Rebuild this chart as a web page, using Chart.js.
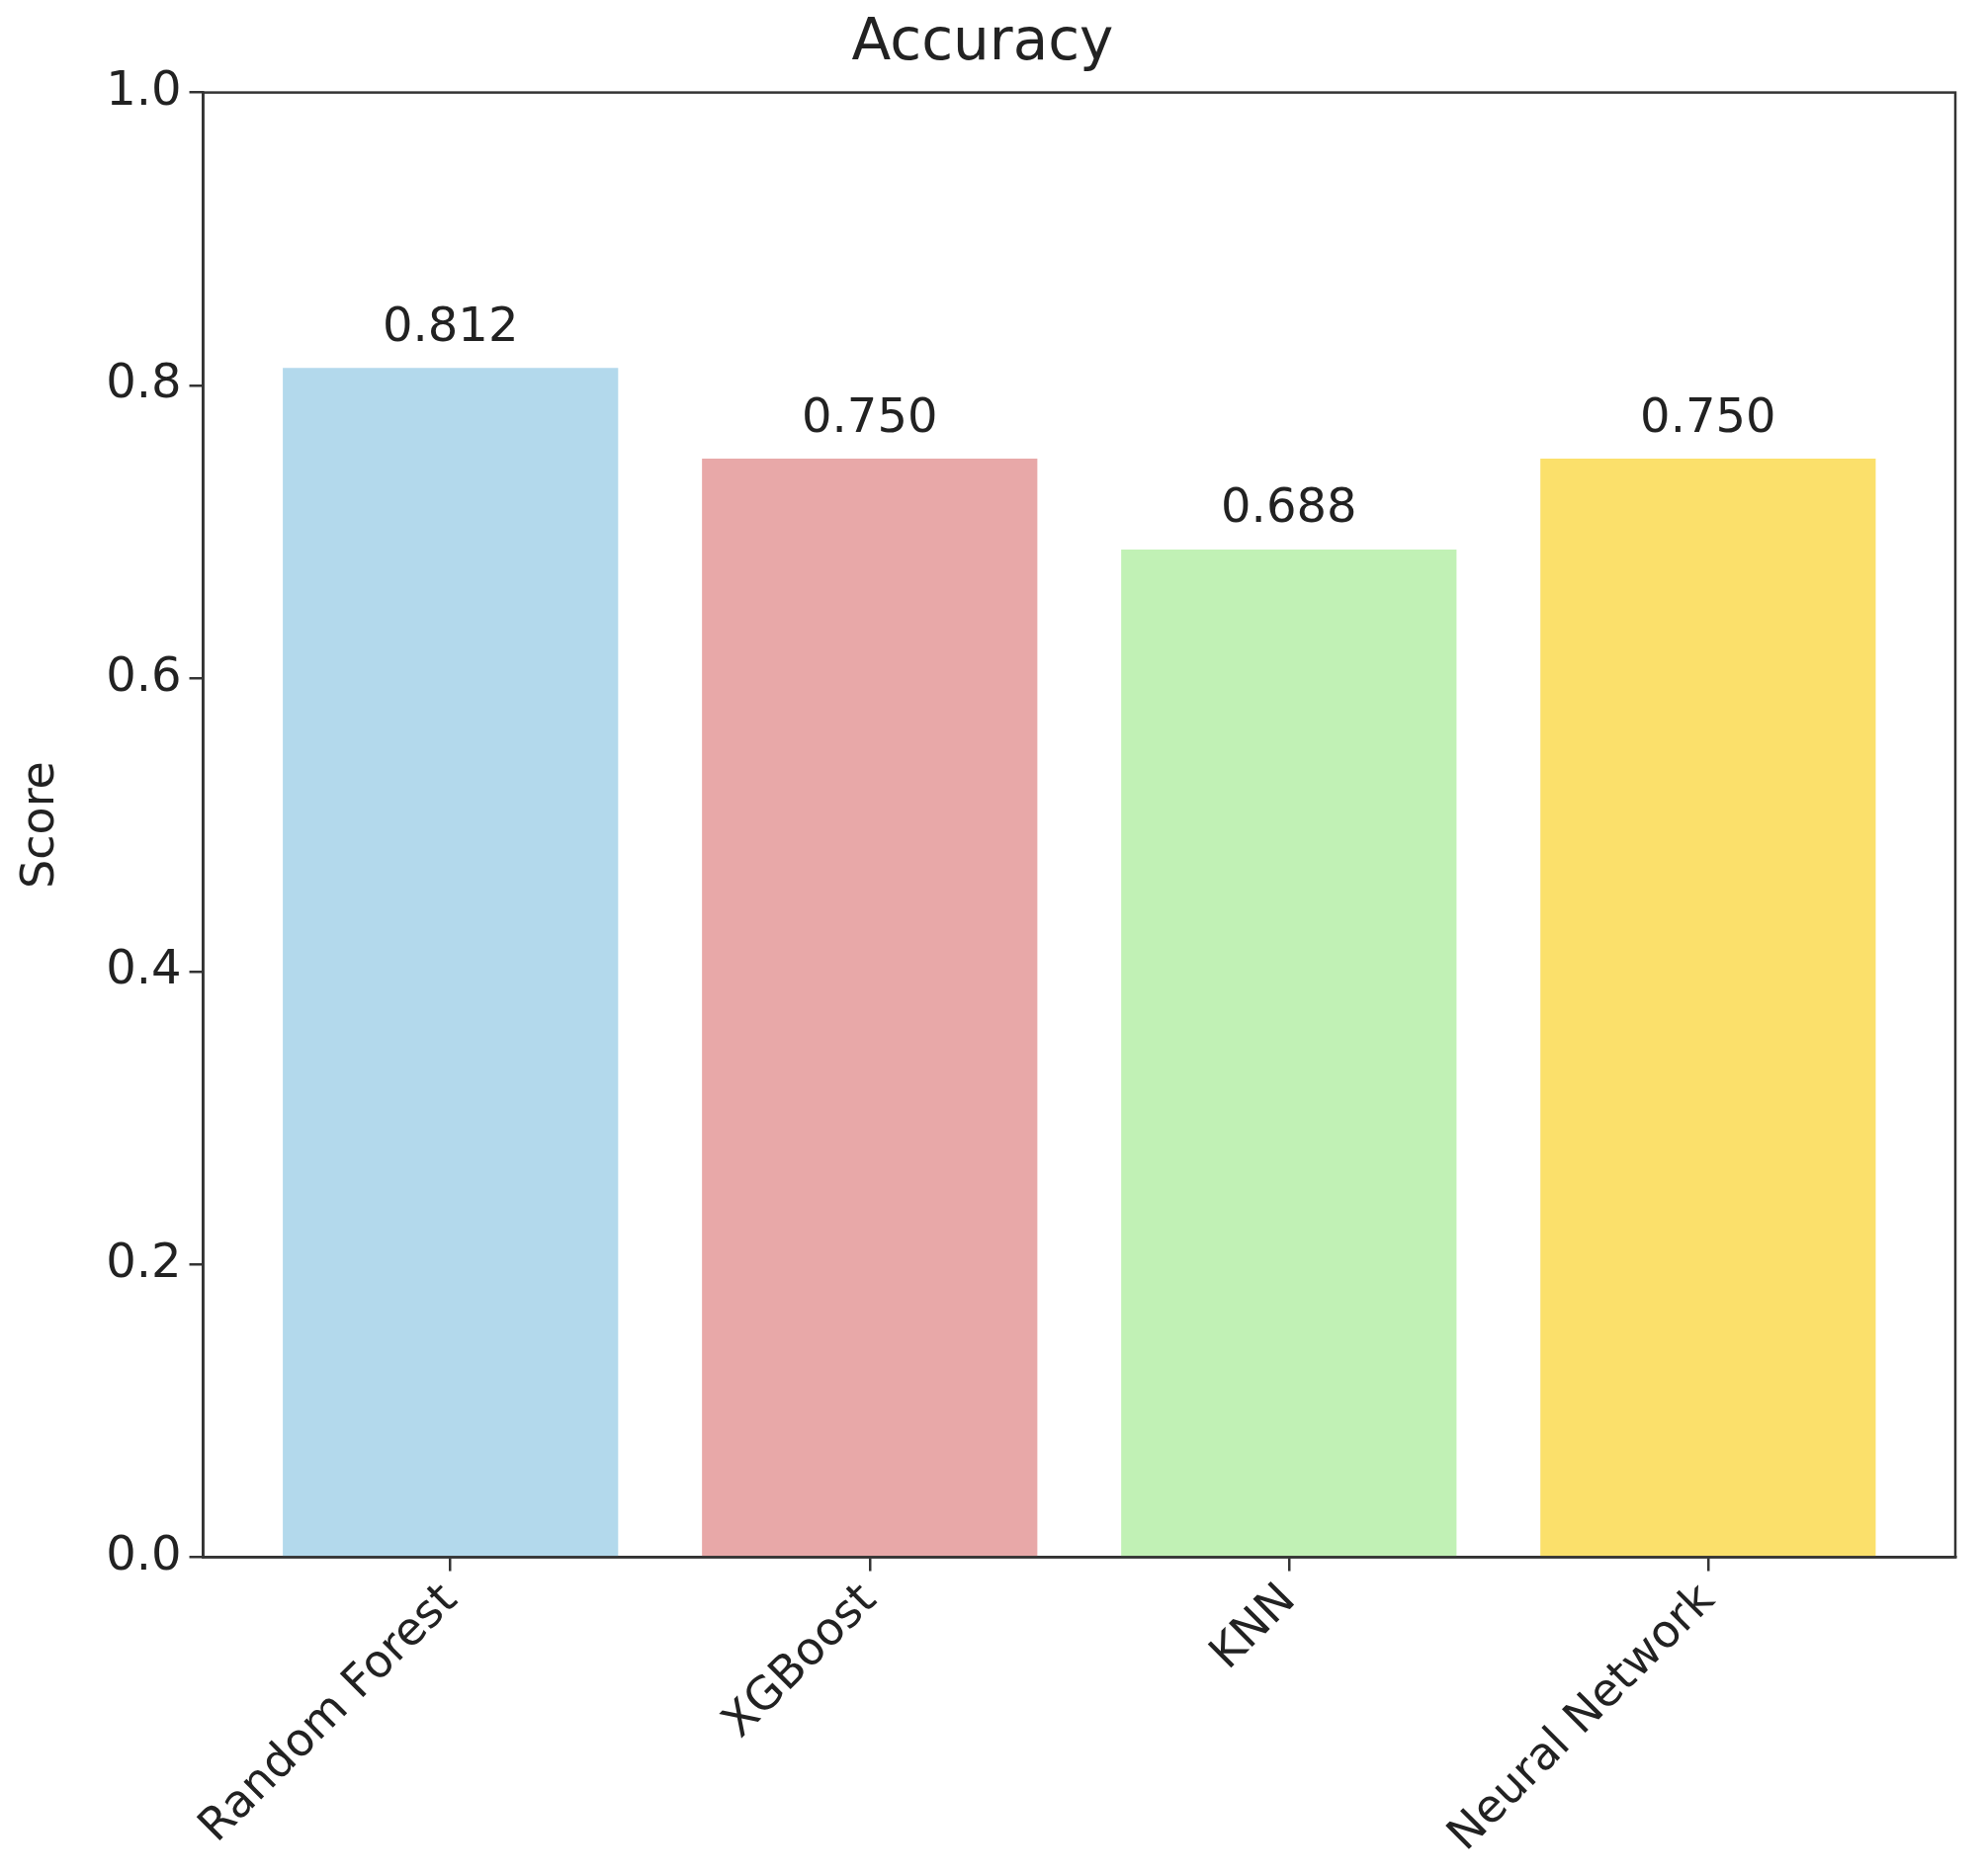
<!DOCTYPE html>
<html><head><meta charset="utf-8">
<script src="https://cdn.jsdelivr.net/npm/chart.js@4/dist/chart.umd.min.js"></script>
<style>html,body{margin:0;background:#fff}#w{width:2007px;height:1898px}</style>
</head><body><div id="w"><canvas id="c"></canvas></div>
<script>
const categories = ["Random Forest", "XGBoost", "KNN", "Neural Network"];
const scores = [0.812, 0.750, 0.688, 0.750];
const barColors = ["#b3d9ec", "#e8a8a8", "#c1f1b5", "#fbe06b"];
const yTicks = [0.0, 0.2, 0.4, 0.6, 0.8, 1.0];
const F = "DejaVu Sans";
const frame = {
  id: 'frame',
  afterDraw(ch) {
    const a = ch.chartArea, x = ch.ctx;
    x.save(); x.strokeStyle = '#333'; x.lineWidth = 2.5;
    x.strokeRect(a.left, a.top, a.right - a.left, a.bottom - a.top);
    x.fillStyle = '#222'; x.font = '48px ' + F; x.textAlign = 'center'; x.textBaseline = 'bottom';
    const xs = ch.scales.x, ys = ch.scales.y;
    scores.forEach((v, i) => x.fillText(v.toFixed(3), xs.getPixelForValue(i), ys.getPixelForValue(v) - 16));
    x.restore();
  }
};
new Chart(document.getElementById('c'), {
  type: 'bar',
  data: { datasets: [{ data: scores.map((v, i) => ({ x: i, y: v })), backgroundColor: barColors,
    barPercentage: 0.8, categoryPercentage: 1.0 }] },
  options: {
    responsive: true, maintainAspectRatio: false, animation: false,
    layout: { padding: { top: 10, right: 29, left: 10, bottom: 10 } },
    plugins: { legend: { display: false }, tooltip: { enabled: false },
      title: { display: true, text: 'Accuracy', color: '#222', font: { family: F, size: 58, weight: 'normal' }, padding: { top: 0, bottom: 14 } } },
    scales: {
      x: { type: 'linear', offset: false, min: -0.59, max: 3.59, afterBuildTicks: s => { s.ticks = categories.map((c, i) => ({ value: i })); },
        ticks: { callback: (v) => categories[v], color: '#222', font: { family: F, size: 46 }, maxRotation: 45, minRotation: 45, autoSkip: false },
        grid: { offset: false, drawOnChartArea: false, tickLength: 14, color: '#333', lineWidth: 2.5 }, border: { color: '#333', width: 2.5 } },
      y: { min: 0, max: 1, afterBuildTicks: s => { s.ticks = yTicks.map(v => ({ value: v })); },
        ticks: { callback: v => v.toFixed(1), color: '#222', font: { family: F, size: 48 }, padding: 8 },
        title: { display: true, text: 'Score', color: '#222', font: { family: F, size: 46 }, padding: { bottom: 30 } },
        grid: { drawOnChartArea: false, tickLength: 14, color: '#333', lineWidth: 2.5 }, border: { color: '#333', width: 2.5 } }
    }
  },
  plugins: [frame]
});
</script></body></html>
